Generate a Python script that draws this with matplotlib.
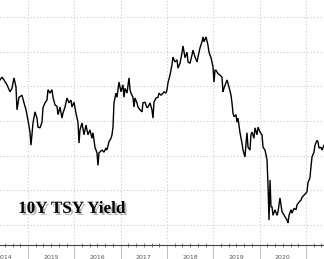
#!/usr/bin/env python3
import numpy as np
import matplotlib
matplotlib.use('Agg')
import matplotlib.pyplot as plt
import matplotlib.patheffects as pe

# decimal year of each reading
t = [2014.396, 2014.439, 2014.482, 2014.547, 2014.611, 2014.655, 2014.698, 2014.741, 2014.763, 2014.806,
     2014.870, 2014.914, 2014.957, 2015.000, 2015.043, 2015.065, 2015.108, 2015.151, 2015.194, 2015.216,
     2015.259, 2015.302, 2015.324, 2015.367, 2015.410, 2015.432, 2015.475, 2015.518, 2015.540, 2015.583,
     2015.626, 2015.648, 2015.691, 2015.734, 2015.755, 2015.799, 2015.842, 2015.885, 2015.928, 2015.950,
     2015.993, 2016.036, 2016.079, 2016.101, 2016.122, 2016.166, 2016.209, 2016.252, 2016.295, 2016.338,
     2016.381, 2016.403, 2016.446, 2016.489, 2016.511, 2016.532, 2016.597, 2016.640, 2016.684, 2016.705,
     2016.748, 2016.791, 2016.813, 2016.835, 2016.856, 2016.899, 2016.921, 2016.964, 2016.986, 2017.007,
     2017.050, 2017.072, 2017.094, 2017.137, 2017.180, 2017.202, 2017.223, 2017.266, 2017.288, 2017.309,
     2017.353, 2017.374, 2017.417, 2017.461, 2017.482, 2017.525, 2017.568, 2017.590, 2017.633, 2017.676,
     2017.698, 2017.720, 2017.763, 2017.806, 2017.827, 2017.871, 2017.914, 2017.935, 2017.979, 2018.000,
     2018.022, 2018.065, 2018.108, 2018.130, 2018.173, 2018.216, 2018.238, 2018.281, 2018.324, 2018.346,
     2018.389, 2018.432, 2018.454, 2018.497, 2018.540, 2018.561, 2018.605, 2018.648, 2018.669, 2018.712,
     2018.756, 2018.777, 2018.799, 2018.842, 2018.885, 2018.907, 2018.950, 2018.993, 2019.015, 2019.036,
     2019.058, 2019.101, 2019.144, 2019.187, 2019.209, 2019.230, 2019.274, 2019.295, 2019.338, 2019.382,
     2019.403, 2019.425, 2019.446, 2019.490, 2019.511, 2019.533, 2019.576, 2019.619, 2019.641, 2019.684,
     2019.706, 2019.727, 2019.749, 2019.792, 2019.813, 2019.835, 2019.878, 2019.900, 2019.943, 2019.965,
     2020.008, 2020.051, 2020.073, 2020.116, 2020.159, 2020.180, 2020.202, 2020.224, 2020.245, 2020.267,
     2020.288, 2020.331, 2020.375, 2020.396, 2020.439, 2020.483, 2020.504, 2020.547, 2020.591, 2020.612,
     2020.634, 2020.677, 2020.698, 2020.742, 2020.785, 2020.806, 2020.850, 2020.893, 2020.914, 2020.957,
     2021.000, 2021.022, 2021.043, 2021.086, 2021.108, 2021.130, 2021.173, 2021.194, 2021.238, 2021.259,
     2021.281, 2021.324, 2021.346, 2021.389]

# 10Y treasury yield, %
yld = [2.59, 2.63, 2.59, 2.52, 2.42, 2.47, 2.62, 2.49, 2.16, 2.34,
       2.37, 2.26, 2.16, 2.01, 1.84, 1.65, 1.97, 2.13, 2.04, 1.91,
       1.90, 1.98, 2.19, 2.26, 2.30, 2.45, 2.40, 2.45, 2.34, 2.23,
       2.21, 2.09, 2.20, 2.04, 2.11, 2.20, 2.33, 2.26, 2.30, 2.20,
       2.27, 2.11, 1.98, 1.68, 1.87, 1.97, 1.80, 1.94, 1.80, 1.87,
       1.75, 1.83, 1.62, 1.54, 1.36, 1.54, 1.58, 1.55, 1.61, 1.58,
       1.70, 1.75, 1.80, 1.91, 2.26, 2.40, 2.34, 2.56, 2.49, 2.42,
       2.52, 2.34, 2.47, 2.40, 2.62, 2.45, 2.40, 2.34, 2.20, 2.33,
       2.26, 2.20, 2.16, 2.13, 2.26, 2.27, 2.19, 2.20, 2.26, 2.16,
       2.04, 2.27, 2.33, 2.34, 2.40, 2.37, 2.40, 2.42, 2.40, 2.45,
       2.55, 2.66, 2.81, 2.92, 2.85, 2.88, 2.76, 2.83, 2.98, 3.08,
       2.91, 2.99, 2.85, 2.83, 2.95, 3.02, 2.92, 2.85, 2.92, 3.05,
       3.14, 3.21, 3.14, 3.21, 3.09, 2.99, 2.91, 2.78, 2.56, 2.73,
       2.73, 2.68, 2.66, 2.63, 2.42, 2.47, 2.55, 2.59, 2.49, 2.37,
       2.26, 2.11, 2.06, 2.09, 1.98, 2.04, 1.83, 1.68, 1.58, 1.48,
       1.68, 1.83, 1.62, 1.58, 1.80, 1.84, 1.75, 1.90, 1.80, 1.91,
       1.84, 1.80, 1.62, 1.58, 1.44, 1.08, 0.57, 1.15, 0.76, 0.76,
       0.64, 0.72, 0.64, 0.69, 0.89, 0.69, 0.67, 0.62, 0.57, 0.53,
       0.64, 0.72, 0.67, 0.74, 0.72, 0.79, 0.83, 0.86, 0.90, 0.93,
       0.96, 0.98, 1.11, 1.18, 1.34, 1.48, 1.55, 1.65, 1.72, 1.70,
       1.61, 1.62, 1.58, 1.65]

years = [2014, 2015, 2016, 2017, 2018, 2019, 2020]
grid_years = [2015, 2016, 2017, 2018, 2019, 2020, 2021]
y_grid = [0.5, 1.0, 1.5, 2.0, 2.5, 3.0, 3.5]
title = "10Y TSY Yield"

fig = plt.figure(figsize=(3.24, 2.59), dpi=100)
ax = fig.add_axes([0, 0.054, 1, 0.946])

ax.plot(t, yld, color='black', lw=1.0, solid_joinstyle='miter')

for s in ['top', 'right', 'left']:
    ax.spines[s].set_visible(False)
ax.spines['bottom'].set_color('#444444')
ax.spines['bottom'].set_linewidth(0.8)

ax.set_yticks(y_grid)
ax.tick_params(axis='y', left=False, labelleft=False)
ax.grid(axis='y', color='#cccccc', linestyle=(0, (1, 2)), lw=0.8)

# year boundaries: grid + long ticks, labels in the middle of each year
ax.set_xticks(grid_years)
ax.set_xticklabels([])
ax.tick_params(axis='x', which='major', direction='out', length=10, width=0.7, color='#bdbdbd')
ax.grid(axis='x', color='#cccccc', linestyle=(0, (1, 2)), lw=0.8)
ax.set_xticks(np.arange(2014, 2022, 1 / 6), minor=True)
ax.tick_params(axis='x', which='minor', direction='inout', length=3, width=0.6, color='#666666')

# limits last, so the tick setters cannot widen them
ax.set_xlim(2014.396, 2021.389)
ax.set_ylim(0.212, 3.742)

for yr in years:
    ax.text(yr + 0.5, -0.05, str(yr), transform=ax.get_xaxis_transform(), ha='center', va='center',
            fontsize=4.5, color='#555555', clip_on=False)

fig.text(0.056, 0.178, title, fontsize=12.3, fontweight='bold', family='Liberation Serif',
         color='black', va='baseline', ha='left',
         path_effects=[pe.withSimplePatchShadow(offset=(1.5, -1.5), shadow_rgbFace='#888888', alpha=0.6)])

fig.savefig('out.png', dpi=100)
